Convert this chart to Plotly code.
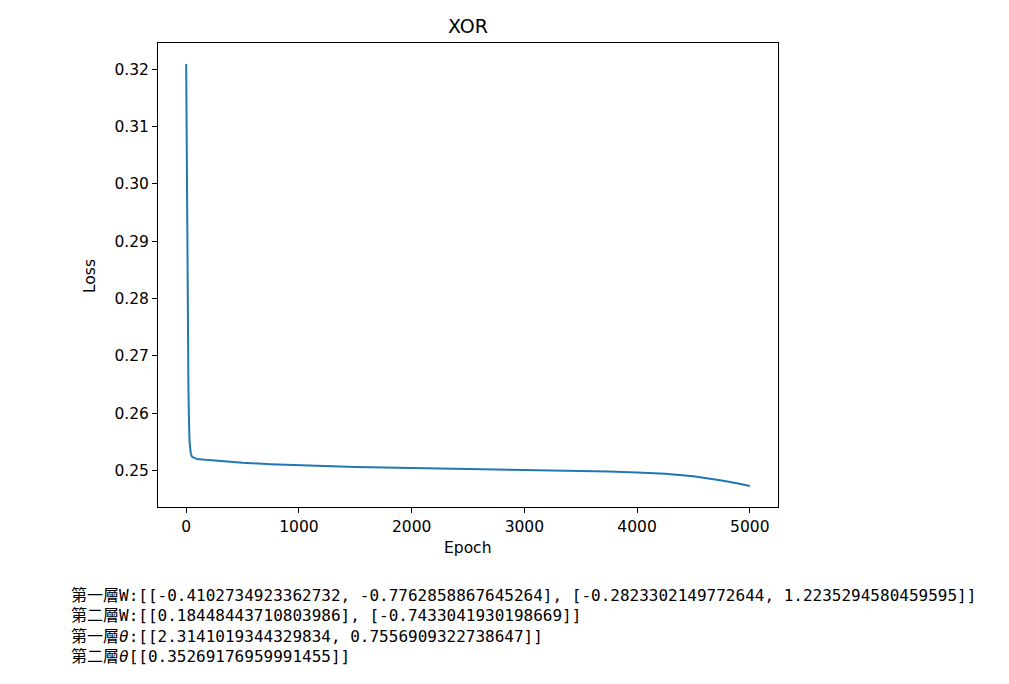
import plotly.graph_objects as go

# Loss curve values
epochs = [0, 5, 10, 15, 20, 25, 30, 40, 50, 75, 100, 200, 300, 400, 500, 750, 1000,
          1250, 1500, 2000, 2500, 3000, 3500, 3750, 4000, 4250, 4500, 4625, 4750, 4875, 5000]
loss = [0.3209, 0.3000, 0.2850, 0.2725, 0.2640, 0.2585, 0.2550, 0.2531, 0.2524,
        0.25215, 0.25200, 0.25180, 0.25163, 0.25148, 0.25135, 0.25110, 0.25090,
        0.25075, 0.25062, 0.25042, 0.25027, 0.25012, 0.24995, 0.24983, 0.24965,
        0.24940, 0.24900, 0.24865, 0.24825, 0.24780, 0.24730]

x_ticks = [0, 1000, 2000, 3000, 4000, 5000]
y_ticks = [0.25, 0.26, 0.27, 0.28, 0.29, 0.30, 0.31, 0.32]

title_text = "XOR"
x_label = "Epoch"
y_label = "Loss"

output_lines = [
    "第一層W:[[-0.4102734923362732, -0.7762858867645264], [-0.2823302149772644, 1.2235294580459595]]",
    "第二層W:[[0.18448443710803986], [-0.7433041930198669]]",
    "第一層<i>θ</i>:[[2.3141019344329834, 0.7556909322738647]]",
    "第二層<i>θ</i>[[0.35269176959991455]]",
]

W, H = 1009, 684
L, R, T, B = 158, 778, 43, 507
pw, ph = R - L, B - T

def px(x):
    return (x - L) / pw

def py(y):
    return (B - y) / ph

# matplotlib-like 5% margins
xmin, xmax = min(epochs), max(epochs)
ymin, ymax = min(loss), max(loss)
xm = (xmax - xmin) * 0.05
ym = (ymax - ymin) * 0.05

fig = go.Figure()
fig.add_trace(go.Scatter(x=epochs, y=loss, mode="lines",
                         line=dict(color="#1f77b4", width=2),
                         showlegend=False))

axis_common = dict(showgrid=False, zeroline=False, showline=True, mirror=True,
                   linecolor="black", linewidth=1, ticks="outside", ticklen=5,
                   tickwidth=1, tickcolor="black",
                   tickfont=dict(family="DejaVu Sans", size=15.5, color="black"))

fig.update_xaxes(range=[xmin - xm, xmax + xm], tickvals=x_ticks, **axis_common)
fig.update_yaxes(range=[ymin - ym, ymax + ym], tickvals=y_ticks, tickformat=".2f",
                 **axis_common)

annotations = [
    dict(text=title_text, x=px(468), y=py(25.5), xanchor="center", yanchor="middle",
         font=dict(family="DejaVu Sans", size=19, color="black")),
    dict(text=x_label, x=px(467), y=py(548), xanchor="center", yanchor="middle",
         font=dict(family="DejaVu Sans", size=15.5, color="black")),
    dict(text=y_label, x=px(90), y=py(276), xanchor="center", yanchor="middle",
         textangle=-90, font=dict(family="DejaVu Sans", size=15.5, color="black")),
]
line_centers = [595.5, 615.5, 636, 656.5]
for txt, cy in zip(output_lines, line_centers):
    annotations.append(dict(text=txt, x=px(69), y=py(cy), xanchor="left", yanchor="middle",
                            font=dict(family="DejaVu Sans Mono, Noto Sans CJK TC", size=16.0,
                                      color="black")))
for a in annotations:
    a.update(xref="paper", yref="paper", showarrow=False)

fig.update_layout(width=W, height=H, margin=dict(l=L, r=W - R, t=T, b=H - B, pad=0),
                  plot_bgcolor="white", paper_bgcolor="white",
                  annotations=annotations)

fig.write_html("out.html", config={"displayModeBar": False},
               post_script="document.body.style.margin='0';")
